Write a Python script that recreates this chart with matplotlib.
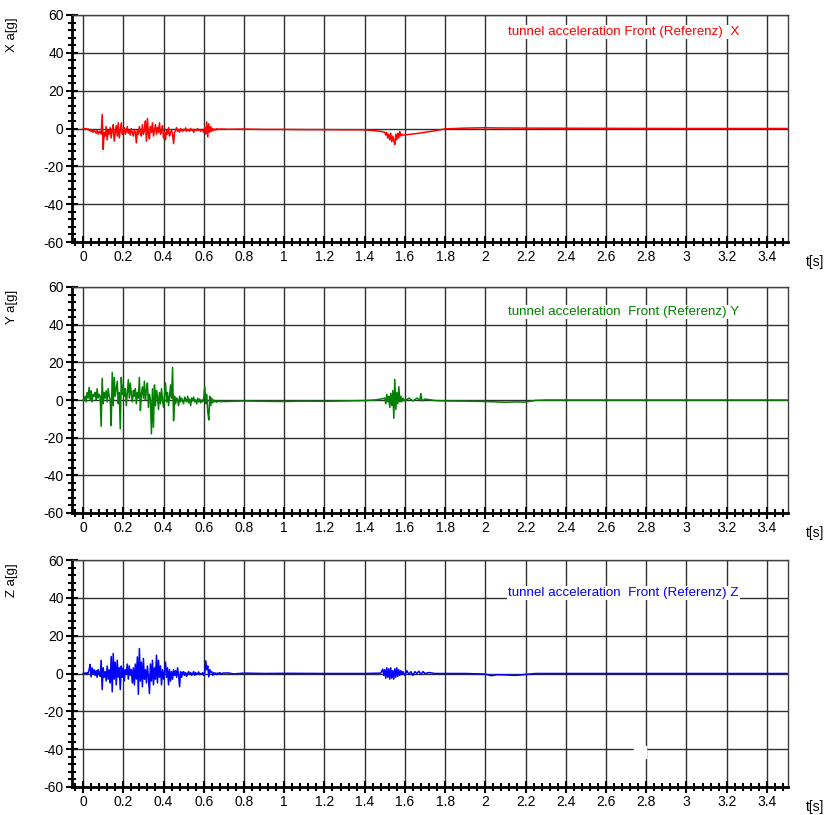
import matplotlib.pyplot as plt
import numpy as np
from matplotlib.ticker import MultipleLocator

plt.rcParams['font.family'] = ['Liberation Sans', 'DejaVu Sans']
plt.rcParams['axes.unicode_minus'] = False

# sampling step of the dense part (0 .. 0.695 s)
dt = 0.005

x_dense = [0, 0, -0.3, 0, -0.5, -0.2,
           -1, -0.5, -1.5, -0.8, -2, -1,
           -1.5, -2.5, -1, -3, -1.5, -2,
           -3, 7.4, -11, -2,
           -4, 1, -6, -1, -3, 0.5,
           -5, -1, 2, -6.7, -2, 1.5,
           -4, 3, -5, -1, 3, -3,
           -1, 0.5, -3, -1.5, 1, -2.5,
           -1, -3.5, 0, -2, -4, -1,
           -2, -7.6, -1, -3, 1, -2,
           -4, 2, -3, -1, 4, -6.7,
           5.3, -3, -5.5, 1, -2, 3,
           -4, -1, 2, -3, 0.5, -2,
           3, -3, -1, 1.5, -5, -2,
           -6, -1, -3, 0.5, -4, -2,
           -1, -3, -8, -2, -1, 0.5,
           -1.5, -0.5, -2, 0, -1, -1.5,
           -0.5, -1, 0.3, -1.5, -0.5, -1,
           -1.5, 0, -1, -0.5, -2, -0.8,
           -0.5, -1.2, 0, -1, -0.6, -1.5,
           -0.5, -1, -2, 0.5, -3, 3.4,
           -4.4, 2.5, -2, 1, -1.5, 0,
           -1, -0.3, -0.8, 0, -0.6, -0.3,
           -0.5, -0.2, -0.4, -0.3]

x_tail_t = [0.72, 0.8, 0.9, 1.0, 1.1, 1.2, 1.3, 1.4, 1.45, 1.48,
            1.50, 1.505, 1.51, 1.515, 1.52, 1.525, 1.53, 1.535, 1.54, 1.545,
            1.55, 1.555, 1.56, 1.565, 1.57, 1.575, 1.58, 1.585, 1.59,
            1.65, 1.7, 1.75, 1.8, 1.85, 1.9, 2.0, 2.05, 2.2, 2.5, 3.0, 3.5]
x_tail_v = [-0.4, -0.3, -0.5, -0.5, -0.6, -0.6, -0.7, -0.7, -1.2, -1.5,
            -2, -3.5, -2, -5, -3, -6, -2.5, -7, -4, -6.5,
            -8.5, -3, -6, -2.5, -5, -1.5, -4, -3, -3.5,
            -2.8, -2, -1.2, -0.2, 0, 0.2, 0.4, 0.3, 0.2, 0.1, 0, 0]

y_dense = [0, 0, 2, -1, 4, 1,
           6.7, 0, 5, -1, 3, 2,
           4, 0, 6, 1, 3, 2,
           -14, 11.5, -2, 4,
           1, 5, -1, 6, 2, 0,
           -13.6, 14.6, -3, 12, 2, 6,
           10, -2, 4, -15.3, 12, 3,
           8, 2, 6, -3, 4, 10.8,
           1, 9, 3, -1, 5, 2,
           6, -2, 4, 1, 12, -5.6,
           3, 7, 1, 10, 0, 5,
           9, -4, 3, 0, -18, 6,
           -14.5, 8, -3, 5, 2, -5,
           4, -2, 6, 0, -4, 3,
           9, -1, 4, -3, 2, 8,
           1, 17.3, -11, 2, -2, 1,
           0, -3, 2, -1, 1, -0.5,
           -2, 1.5, 0, -1, 2, -1.5,
           0.5, -3, 1, -0.5, 1.5, -1,
           0, -2, 1, -1, 0.5, -1.5,
           0, -1, 1, 7.2, -2, 3,
           -6, -10.6, 2, -3, 1, -1.5,
           0, -1, -0.5, -1.2, -0.3, -0.8,
           -0.5, -1, -0.6, -0.8]

y_tail_t = [0.72, 0.8, 0.9, 1.0, 1.1, 1.2, 1.3, 1.4, 1.45, 1.48,
            1.50, 1.505, 1.51, 1.515, 1.52, 1.525, 1.53, 1.535, 1.54, 1.545,
            1.55, 1.555, 1.56, 1.565, 1.57, 1.575, 1.58, 1.585, 1.59, 1.60,
            1.62, 1.64, 1.66, 1.675, 1.68, 1.685, 1.70, 1.75, 1.8, 1.9, 2.0,
            2.05, 2.1, 2.15, 2.2, 2.25, 2.3, 3.5]
y_tail_v = [-0.8, -0.5, -0.7, -0.8, -0.6, -0.7, -0.5, -0.3, 0, 0.5,
            1, -2, 3, -1, 2, -4, 3.5, -3, 5, -9.7,
            11, -5, 4, -2, 7, -1, 2, -1, 1, -0.5,
            1, -0.5, 1, 0, 3.5, -0.5, 0.5, -0.3, -0.5, -0.6, -0.8,
            -1, -1.2, -1, -1.1, -0.2, 0, 0]

z_dense = [0, 0, 0.3, -0.2, 0.5, 0,
           2, 4.8, -1.8, 3, 0, 2,
           -1, 1.5, -2, 2, 0, -1.5,
           7, -8.5, 3, -2,
           1, -4, 4, -3, 2, -5,
           9, -9.7, 10.6, -3, 6, -6,
           7, -2, 3, -8.5, 4, -2,
           3, -4, 2, 0, 5, -3,
           4, -1, 2, -5, 3, -6,
           5, -3, 8.8, -11, 13.2, -4,
           6, -7, 8, -3, 2, -5,
           4, -2, -10.6, 5, -4, 7,
           -6, 3, -3, 9.7, -5, 7,
           -2, 4, -6, 2, -3, 1,
           6, -2, 3, -6, 2, -4,
           1, -3, 2, -1, 1.5, -2,
           3, -1, -7, 1, -2, 0.5,
           1, -1, 0.5, -1.5, 0, 1,
           -0.5, 0.5, -1, 0, 1, -1,
           0.5, -0.5, 0, 0.8, -0.6, 0,
           -0.5, 0.5, -1, 0, 6.7, 2,
           4, -1.8, 2, 0.5, 1, -1,
           0.5, -0.5, 0.3, -0.6, 0.2, 0,
           0.5, -0.3, 0, 0.2]

z_tail_t = [0.72, 0.75, 0.8, 0.9, 1.0, 1.2, 1.4, 1.48, 1.49,
            1.495, 1.50, 1.505, 1.51, 1.515, 1.52, 1.525, 1.53, 1.535, 1.54,
            1.545, 1.55, 1.555, 1.56, 1.565, 1.57, 1.575, 1.58, 1.585, 1.59,
            1.6, 1.61, 1.62, 1.63, 1.64, 1.65, 1.66, 1.67, 1.68, 1.69,
            1.7, 1.72, 1.75, 1.9, 2.0, 2.03, 2.06, 2.1, 2.15, 2.2, 2.25, 3.5]
z_tail_v = [0.3, -0.2, 0.2, 0, 0.1, 0, 0, 0.2, 2.3,
            -1, 2, -2.5, 3, -2, 2.5, -3, 3, -2.5, 1.5,
            -3, 2.5, -2, 3, -1.5, 2, -1, 1.5, -0.5, 1,
            -1, 1.5, -0.5, 1, -1, 1, 0, 1.2, -0.5, 1,
            0, 0.5, 0, 0, -0.3, -1.2, -0.6, -0.8, -1, -0.5, 0, 0]

labels = ["X a[g]", "Y a[g]", "Z a[g]"]
titles = ["tunnel acceleration Front (Referenz)  X",
          "tunnel acceleration  Front (Referenz) Y",
          "tunnel acceleration  Front (Referenz) Z"]
colors = ["#ff0000", "#008000", "#0000ff"]


def series(dense, tail_t, tail_v):
    t = np.concatenate([np.arange(len(dense)) * dt, tail_t])
    v = np.concatenate([dense, tail_v])
    return t, v


data = [series(x_dense, x_tail_t, x_tail_v),
        series(y_dense, y_tail_t, y_tail_v),
        series(z_dense, z_tail_t, z_tail_v)]

fig = plt.figure(figsize=(8.25, 8.15), dpi=100)

# axes boxes in pixels (top, bottom) of the reference, and title rows
boxes = [(15, 242), (287, 513), (560, 787)]
title_rows = [32, 312, 593]
W, H = 825, 815
left, right = 72, 788

for i, (top, bot) in enumerate(boxes):
    ax = fig.add_axes([left / W, 1 - bot / H, (right - left) / W, (bot - top) / H])
    t, v = data[i]
    ax.plot(t, v, color=colors[i], lw=1.1, zorder=3)

    ax.set_xlim(-0.055, 3.505)
    ax.set_ylim(-60, 60)
    ax.xaxis.set_minor_locator(MultipleLocator(0.04))
    ax.yaxis.set_major_locator(MultipleLocator(20))
    ax.yaxis.set_minor_locator(MultipleLocator(4))
    xt = np.round(np.arange(0, 3.41, 0.2), 1)
    ax.set_xticks(xt)
    ax.set_xticklabels([f"{x:g}" for x in xt])
    ax.grid(True, which='major', color='#303030', lw=1.0, zorder=1)

    ax.tick_params(which='major', direction='inout', length=8, width=1.5,
                   labelsize=10, pad=2)
    ax.tick_params(which='minor', direction='inout', length=6, width=1.5)
    for s in ['left', 'bottom']:
        ax.spines[s].set_linewidth(2)
    for s in ['top', 'right']:
        ax.spines[s].set_linewidth(1)
        ax.spines[s].set_color('#404040')

    ax.text(0.609, (bot - title_rows[i]) / (bot - top), titles[i],
            transform=ax.transAxes, color=colors[i],
            fontsize=9.6, ha='left', va='center', zorder=4,
            bbox=dict(facecolor='white', edgecolor='none', pad=1))

    fig.text(12 / W, 1 - (top + 20) / H, labels[i], rotation=90,
             fontsize=9.5, ha='center', va='center')
    fig.text(815 / W, 1 - (bot + 20) / H, "t[s]", fontsize=10,
             ha='center', va='center')

    if i == 2:
        ax.plot([2.77], [-41.5], 's', color='white', ms=8, zorder=2)

fig.savefig("out.png", dpi=100)
